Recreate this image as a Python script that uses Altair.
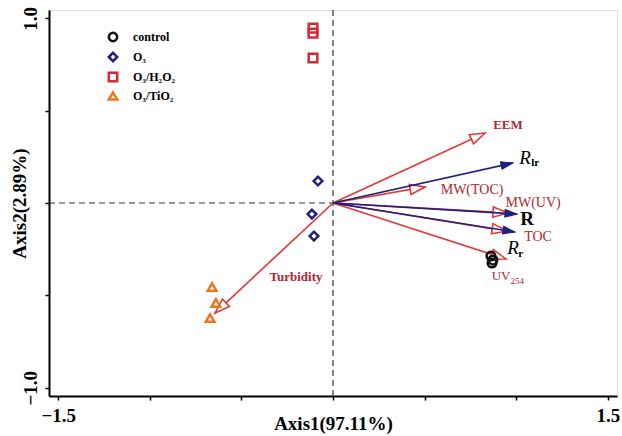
import math
import altair as alt
import pandas as pd

# ---------------- data ----------------
groups = ["control", "O₃", "O₃/H₂O₂", "O₃/TiO₂"]
group_colors = ["#111111", "#1f1f80", "#d42a35", "#e8771f"]
group_shapes = ["circle", "diamond", "square", "triangle-up"]

control_x = [0.862, 0.873, 0.868]
control_y = [-0.287, -0.309, -0.325]
o3_x = [-0.082, -0.115, -0.104]
o3_y = [0.119, -0.060, -0.179]
o3h2o2_x = [-0.109, -0.109, -0.109]
o3h2o2_y = [0.947, 0.920, 0.785]
o3tio2_x = [-0.660, -0.639, -0.671]
o3tio2_y = [-0.455, -0.541, -0.623]

# environmental variables (red, open heads)
env_names = ["EEM", "MW(TOC)", "MW(UV)", "TOC", "UV254", "Turbidity"]
env_x = [0.830, 0.502, 0.955, 0.950, 0.944, -0.644]
env_y = [0.379, 0.087, -0.054, -0.152, -0.303, -0.596]

# response variables (navy, filled heads)
resp_names = ["Rlr", "R", "Rr"]
resp_x = [0.982, 1.004, 0.993]
resp_y = [0.217, -0.060, -0.157]

# arrow labels
label_text = ["EEM", "R", "lr", "MW(TOC)", "MW(UV)", "R", "TOC", "R", "r", "UV", "254", "Turbidity"]
label_x = [0.955, 1.048, 1.104, 0.759, 1.092, 1.059, 1.119, 0.982, 1.024, 0.917, 1.006, -0.202]
label_y = [0.422, 0.244, 0.214, 0.070, 0.000, -0.087, -0.184, -0.244, -0.276, -0.395, -0.422, -0.401]

x_ticks = [-1.5, -1.0, -0.5, 0.0, 0.5, 1.0, 1.5]
y_ticks = [-1.0, -0.5, 0.0, 0.5, 1.0]
x_dom = [-1.55, 1.55]
y_dom = [-1.045, 1.045]

# ---------------- styles ----------------
W, H = 568, 386
RED = "#e23b3b"
LABEL_RED = "#b3262c"
NAVY = "#1f1f80"
FONT = "Liberation Serif"
label_style = [
    (13, "bold", "normal", LABEL_RED),
    (19, "normal", "italic", "black"),
    (11, "bold", "normal", "black"),
    (14, "normal", "normal", LABEL_RED),
    (14, "normal", "normal", LABEL_RED),
    (19, "bold", "normal", "black"),
    (14, "normal", "normal", LABEL_RED),
    (19, "normal", "italic", "black"),
    (11, "bold", "normal", "black"),
    (13, "normal", "normal", LABEL_RED),
    (9, "normal", "normal", LABEL_RED),
    (13, "bold", "normal", LABEL_RED),
]

sx = W / (x_dom[1] - x_dom[0])
sy = H / (y_dom[1] - y_dom[0])


def arrow_df(names, xs, ys):
    rows = []
    for n, x, y in zip(names, xs, ys):
        ang = math.degrees(math.atan2(x * sx, y * sy)) % 360
        rows.append({"name": n, "x0": 0.0, "y0": 0.0, "x": x, "y": y, "angle": ang})
    return pd.DataFrame(rows)


env_df = arrow_df(env_names, env_x, env_y)
resp_df = arrow_df(resp_names, resp_x, resp_y)

pts = []
for g, xs, ys in zip(groups, [control_x, o3_x, o3h2o2_x, o3tio2_x],
                     [control_y, o3_y, o3h2o2_y, o3tio2_y]):
    for x, y in zip(xs, ys):
        pts.append({"group": g, "x": x, "y": y})
pts_df = pd.DataFrame(pts)

xs = alt.Scale(domain=x_dom, nice=False, zero=False)
ys = alt.Scale(domain=y_dom, nice=False, zero=False)

x_axis = alt.Axis(
    values=x_ticks, grid=False, title="Axis1(97.11%)",
    labelExpr="(datum.value == -1.5 || datum.value == 1.5) ? format(datum.value, '.1f') : ''",
    labelFont=FONT, labelFontSize=19, labelFontWeight="bold", labelColor="black",
    labelPadding=6, labelFlush=False, labelOverlap=False,
    titleFont=FONT, titleFontSize=19, titleFontWeight="bold", titleColor="black",
    titleX=W / 2, titleY=27, titleBaseline="middle",
    domainColor="black", domainWidth=2, tickColor="black", tickWidth=1.5, tickSize=4,
)
y_axis = alt.Axis(
    values=y_ticks, grid=False, title="Axis2(2.89%)",
    labelExpr="(datum.value == -1 || datum.value == 1) ? format(datum.value, '.1f') : ''",
    labelFont=FONT, labelFontSize=19, labelFontWeight="bold", labelColor="black",
    labelAngle=270, labelAlign="center", labelBaseline="bottom", labelPadding=5,
    labelFlush=False, labelOverlap=False,
    titleFont=FONT, titleFontSize=19, titleFontWeight="bold", titleColor="black",
    titleAngle=270, titleX=-30, titleY=H / 2, titleBaseline="middle", titleAlign="center",
    domainColor="black", domainWidth=2, tickColor="black", tickWidth=1.5, tickSize=4,
)

base_x = alt.X("x:Q", scale=xs, axis=x_axis)
base_y = alt.Y("y:Q", scale=ys, axis=y_axis)

# dashed reference lines
hdash = alt.Chart(pd.DataFrame({"x": [x_dom[0]], "x2": [0.0], "y": [0.0]})).mark_rule(
    color="#333333", strokeWidth=1.2, strokeDash=[6, 4]
).encode(x=base_x, x2="x2:Q", y=base_y)
vdash = alt.Chart(pd.DataFrame({"x": [0.0], "y": [y_dom[0]], "y2": [y_dom[1]]})).mark_rule(
    color="#333333", strokeWidth=1.2, strokeDash=[6, 4]
).encode(x=base_x, y=base_y, y2="y2:Q")

OPEN_HEAD = "M0,0L0.34,1L-0.34,1Z"
FILL_HEAD = "M0,0L0.32,1L-0.32,1Z"

env_lines = alt.Chart(env_df).mark_rule(color=RED, strokeWidth=1.7).encode(
    x=alt.X("x0:Q", scale=xs, axis=x_axis), y=alt.Y("y0:Q", scale=ys, axis=y_axis),
    x2="x:Q", y2="y:Q")
env_heads = alt.Chart(env_df).mark_point(
    shape=OPEN_HEAD, filled=True, fill="white", stroke=RED, strokeWidth=1.6,
    size=900, opacity=1
).encode(x=base_x, y=base_y, angle=alt.Angle("angle:Q", scale=None))

resp_lines = alt.Chart(resp_df).mark_rule(color=NAVY, strokeWidth=1.6).encode(
    x=alt.X("x0:Q", scale=xs, axis=x_axis), y=alt.Y("y0:Q", scale=ys, axis=y_axis),
    x2="x:Q", y2="y:Q")
resp_heads = alt.Chart(resp_df).mark_point(
    shape=FILL_HEAD, filled=True, fill=NAVY, stroke=NAVY, strokeWidth=1,
    size=576, opacity=1
).encode(x=base_x, y=base_y, angle=alt.Angle("angle:Q", scale=None))

leg = alt.Legend(
    title=None, orient="none", legendX=58, legendY=21, padding=0,
    labelFont=FONT, labelFontSize=12, labelFontWeight="bold", labelColor="black",
    labelOffset=14, rowPadding=0, symbolStrokeWidth=2.5, symbolSize=70,
)
points = alt.Chart(pts_df).mark_point(filled=False, strokeWidth=2.5, size=75, opacity=1).encode(
    x=base_x, y=base_y,
    color=alt.Color("group:N", scale=alt.Scale(domain=groups, range=group_colors), legend=leg),
    shape=alt.Shape("group:N", scale=alt.Scale(domain=groups, range=group_shapes), legend=leg),
)

texts = []
for t, lx, ly, (fs, fw, fst, col) in zip(label_text, label_x, label_y, label_style):
    texts.append(
        alt.Chart(pd.DataFrame({"x": [lx], "y": [ly], "t": [t]})).mark_text(
            font=FONT, fontSize=fs, fontWeight=fw, fontStyle=fst, color=col,
            align="center", baseline="middle"
        ).encode(x=base_x, y=base_y, text="t:N")
    )

chart = alt.layer(
    hdash, vdash, env_lines, env_heads, resp_lines, resp_heads, points, *texts
).properties(
    width=W, height=H,
    autosize=alt.AutoSizeParams(type="none"),
    padding={"left": 49, "top": 10, "right": 5, "bottom": 40},
).configure_view(stroke="black", strokeWidth=1.5).configure(background="white")

chart.save("out.html", embed_options={"renderer": "svg", "actions": False})
